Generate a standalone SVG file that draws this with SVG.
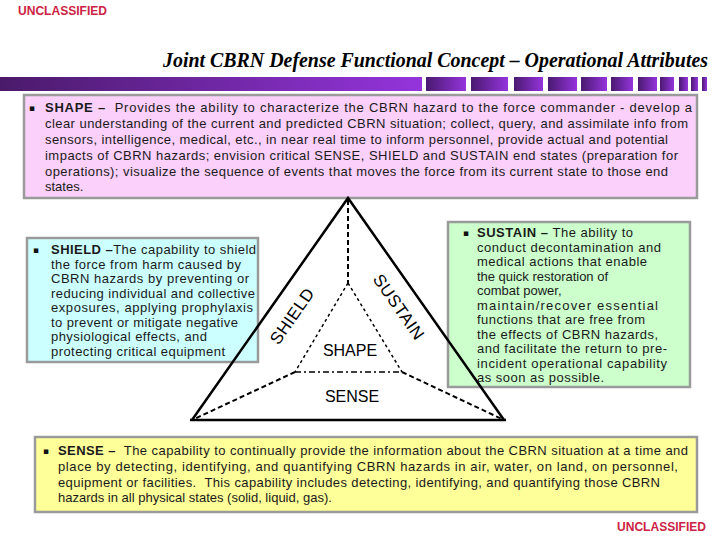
<svg xmlns="http://www.w3.org/2000/svg" width="720" height="540" viewBox="0 0 720 540">
<defs>
<linearGradient id="barMain" x1="0" y1="0" x2="1" y2="0">
<stop offset="0" stop-color="#4a1a6a"/>
<stop offset="1" stop-color="#9434dc"/>
</linearGradient>
<linearGradient id="barSeg" x1="0" y1="0" x2="1" y2="0">
<stop offset="0" stop-color="#4a1a70"/>
<stop offset="1" stop-color="#9434dc"/>
</linearGradient>
</defs>
<style>
.cls{font-family:"Liberation Sans",Arial,sans-serif;font-weight:bold;font-size:12px;fill:#cc2244}
.title{font-family:"Liberation Serif","Times New Roman",serif;font-weight:bold;font-style:italic;font-size:20px;fill:#000}
.box{stroke:#9a9a9a;stroke-width:2.5}
.t{font-family:"Liberation Sans",Arial,sans-serif;font-size:13px;fill:#1a1a1a;white-space:pre}
.b{font-weight:bold}
.bul{font-family:"DejaVu Sans",sans-serif;font-size:9px;fill:#111}
.lbl{font-family:"Liberation Sans",Arial,sans-serif;font-size:16px;fill:#000;text-anchor:middle}
.rl{font-size:17px;letter-spacing:0.5px}
.solid{stroke:#000;stroke-width:2.5;fill:none}
.dash{stroke:#000;stroke-width:2;fill:none;stroke-dasharray:5 3}
.dot{stroke:#000;stroke-width:1.5;fill:none;stroke-dasharray:3 3}
.dashdot{stroke:#000;stroke-width:1.5;fill:none;stroke-dasharray:6 3 2 3}
</style>
<rect width="720" height="540" fill="#fff"/>
<text class="cls" x="18" y="15" textLength="89" lengthAdjust="spacingAndGlyphs">UNCLASSIFIED</text>
<text class="title" x="163" y="67" textLength="545" lengthAdjust="spacingAndGlyphs">Joint CBRN Defense Functional Concept – Operational Attributes</text>
<g id="bar">
<rect x="0" y="77" width="422" height="14" fill="url(#barMain)"/>
<rect x="426" y="77" width="40" height="14" fill="url(#barSeg)"/>
<rect x="471" y="77" width="37" height="14" fill="url(#barSeg)"/>
<rect x="514" y="77" width="29" height="14" fill="url(#barSeg)"/>
<rect x="548" y="77" width="29" height="14" fill="url(#barSeg)"/>
<rect x="581" y="77" width="26" height="14" fill="url(#barSeg)"/>
<rect x="611" y="77" width="22" height="14" fill="url(#barSeg)"/>
<rect x="638" y="77" width="19" height="14" fill="url(#barSeg)"/>
<rect x="660" y="77" width="14" height="14" fill="url(#barSeg)"/>
<rect x="679" y="77" width="9" height="14" fill="url(#barSeg)"/>
<rect x="691" y="77" width="7" height="14" fill="url(#barSeg)"/>
<rect x="702" y="77" width="5" height="14" fill="url(#barSeg)"/>
</g>
<g id="shape-box">
<rect class="box" x="24" y="95" width="673" height="103" fill="#fbd0fb"/>
<text class="bul" x="29" y="111">▪</text>
<text class="t" x="45" y="112" textLength="647" lengthAdjust="spacing"><tspan class="b">SHAPE –</tspan>  Provides the ability to characterize the CBRN hazard to the force commander - develop a</text>
<text class="t" x="45" y="128" textLength="643" lengthAdjust="spacing">clear understanding of the current and predicted CBRN situation; collect, query, and assimilate info from</text>
<text class="t" x="45" y="144" textLength="623" lengthAdjust="spacing">sensors, intelligence, medical, etc., in near real time to inform personnel, provide actual and potential</text>
<text class="t" x="45" y="160" textLength="633" lengthAdjust="spacing">impacts of CBRN hazards; envision critical SENSE, SHIELD and SUSTAIN end states (preparation for</text>
<text class="t" x="45" y="176" textLength="623" lengthAdjust="spacing">operations); visualize the sequence of events that moves the force from its current state to those end</text>
<text class="t" x="45" y="191">states.</text>
</g>
<g id="shield-box">
<rect class="box" x="27" y="238" width="231" height="124" fill="#ccffff"/>
<text class="bul" x="33" y="253">▪</text>
<text class="t" x="51" y="254" textLength="205" lengthAdjust="spacing"><tspan class="b">SHIELD –</tspan>The capability to shield</text>
<text class="t" x="51" y="268.5" textLength="190" lengthAdjust="spacing">the force from harm caused by</text>
<text class="t" x="51" y="283" textLength="198" lengthAdjust="spacing">CBRN hazards by preventing or</text>
<text class="t" x="51" y="297.5" textLength="204" lengthAdjust="spacing">reducing individual and collective</text>
<text class="t" x="51" y="312" textLength="202" lengthAdjust="spacing">exposures, applying prophylaxis</text>
<text class="t" x="51" y="326.5" textLength="187" lengthAdjust="spacing">to prevent or mitigate negative</text>
<text class="t" x="51" y="341" textLength="156" lengthAdjust="spacing">physiological effects, and</text>
<text class="t" x="51" y="355.5" textLength="174" lengthAdjust="spacing">protecting critical equipment</text>
</g>
<g id="sustain-box">
<rect class="box" x="448" y="222" width="242" height="165" fill="#ccffcc"/>
<text class="bul" x="463" y="236">▪</text>
<text class="t" x="477" y="237" textLength="156" lengthAdjust="spacing"><tspan class="b">SUSTAIN –</tspan> The ability to</text>
<text class="t" x="477" y="251.5" textLength="184" lengthAdjust="spacing">conduct decontamination and</text>
<text class="t" x="477" y="266" textLength="170" lengthAdjust="spacing">medical actions that enable</text>
<text class="t" x="477" y="280.5" textLength="131" lengthAdjust="spacing">the quick restoration of</text>
<text class="t" x="477" y="295">combat power,</text>
<text class="t" x="477" y="309.5" textLength="181" lengthAdjust="spacing">maintain/recover essential</text>
<text class="t" x="477" y="324" textLength="168" lengthAdjust="spacing">functions that are free from</text>
<text class="t" x="477" y="338.5" textLength="181" lengthAdjust="spacing">the effects of CBRN hazards,</text>
<text class="t" x="477" y="353" textLength="190" lengthAdjust="spacing">and facilitate the return to pre-</text>
<text class="t" x="477" y="367.5" textLength="190" lengthAdjust="spacing">incident operational capability</text>
<text class="t" x="477" y="382" textLength="127" lengthAdjust="spacing">as soon as possible.</text>
</g>
<g id="sense-box">
<rect class="box" x="35" y="437" width="662" height="75" fill="#ffff99"/>
<text class="bul" x="43" y="454">▪</text>
<text class="t" x="58" y="455" textLength="630" lengthAdjust="spacing"><tspan class="b">SENSE –</tspan>  The capability to continually provide the information about the CBRN situation at a time and</text>
<text class="t" x="58" y="471" textLength="620" lengthAdjust="spacing">place by detecting, identifying, and quantifying CBRN hazards in air, water, on land, on personnel,</text>
<text class="t" x="58" y="487" textLength="602" lengthAdjust="spacing">equipment or facilities.  This capability includes detecting, identifying, and quantifying those CBRN</text>
<text class="t" x="58" y="502">hazards in all physical states (solid, liquid, gas).</text>
</g>
<g id="connectors">
<polyline class="solid" points="192,420 348,198 504,420"/>
<line class="solid" x1="190" y1="420" x2="506" y2="420"/>
<line class="dash" x1="348" y1="200" x2="348" y2="283"/>
<line class="dot" x1="348" y1="283" x2="295" y2="372"/>
<line class="dot" x1="348" y1="283" x2="402" y2="372"/>
<line class="dashdot" x1="295" y1="372" x2="402" y2="372"/>
<line class="dash" x1="295" y1="372" x2="192" y2="420"/>
<line class="dash" x1="402" y1="372" x2="504" y2="420"/>
</g>
<g id="label-shield"><text class="lbl rl" transform="translate(292,316) rotate(-55)" dy="6">SHIELD</text></g>
<g id="label-sustain"><text class="lbl rl" transform="translate(399,307) rotate(55)" dy="6">SUSTAIN</text></g>
<g id="label-shape"><text class="lbl" x="350" y="356">SHAPE</text></g>
<g id="label-sense"><text class="lbl" x="352" y="402">SENSE</text></g>
<text class="cls" x="617" y="531" textLength="89" lengthAdjust="spacingAndGlyphs">UNCLASSIFIED</text>
</svg>
